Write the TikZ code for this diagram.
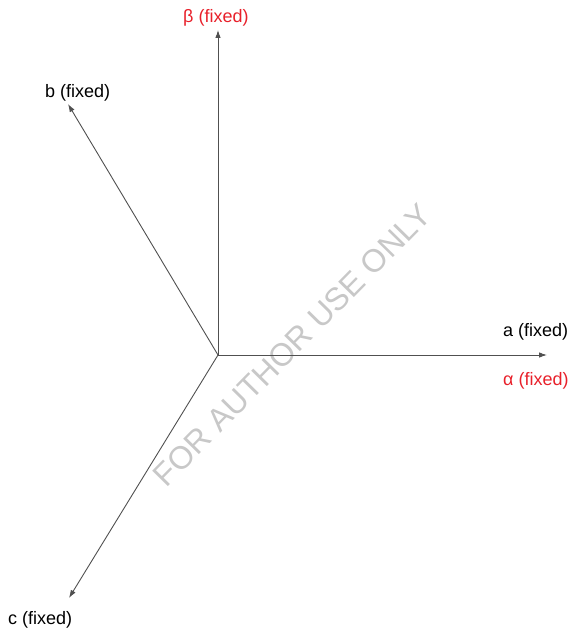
\documentclass[tikz,border=0pt]{standalone}
\usepackage{fontspec}
\setmainfont{Liberation Sans}
\usetikzlibrary{arrows.meta}
\definecolor{axisgray}{HTML}{505050}
\definecolor{lblred}{HTML}{E8202A}
\definecolor{wmgray}{HTML}{C8C8C8}
\begin{document}
\begin{tikzpicture}[x=1pt,y=-1pt,
  axis/.style={draw=axisgray,line width=0.9pt,-{Latex[length=8pt,width=5.5pt]}},
  lbl/.style={anchor=base west,inner sep=0pt,font=\fontsize{18}{20}\selectfont},
  redlbl/.style={lbl,text=lblred},
  watermark/.style={text=wmgray,rotate=45.5,font=\fontsize{32}{34}\selectfont,inner sep=0pt}]
\useasboundingbox (0,0) rectangle (579,634);
\coordinate (o) at (218,355);
\coordinate (up) at (218,30);
\coordinate (right) at (547,355);
\coordinate (bt) at (68,104);
\coordinate (ct) at (69,598);
\node[watermark] (wmark) at (292,345) {FOR AUTHOR USE ONLY};
\draw[axis] (o) -- (up);
\draw[axis] (o) -- (right);
\draw[axis] (o) -- (bt);
\draw[axis] (o) -- (ct);
\node[redlbl] (beta) at (183,23) {β (fixed)};
\node[lbl] (a) at (503,336) {a (fixed)};
\node[redlbl] (alpha) at (503,385) {α (fixed)};
\node[lbl] (b) at (45,97) {b (fixed)};
\node[lbl] (c) at (8,624) {c (fixed)};
\end{tikzpicture}
\end{document}
